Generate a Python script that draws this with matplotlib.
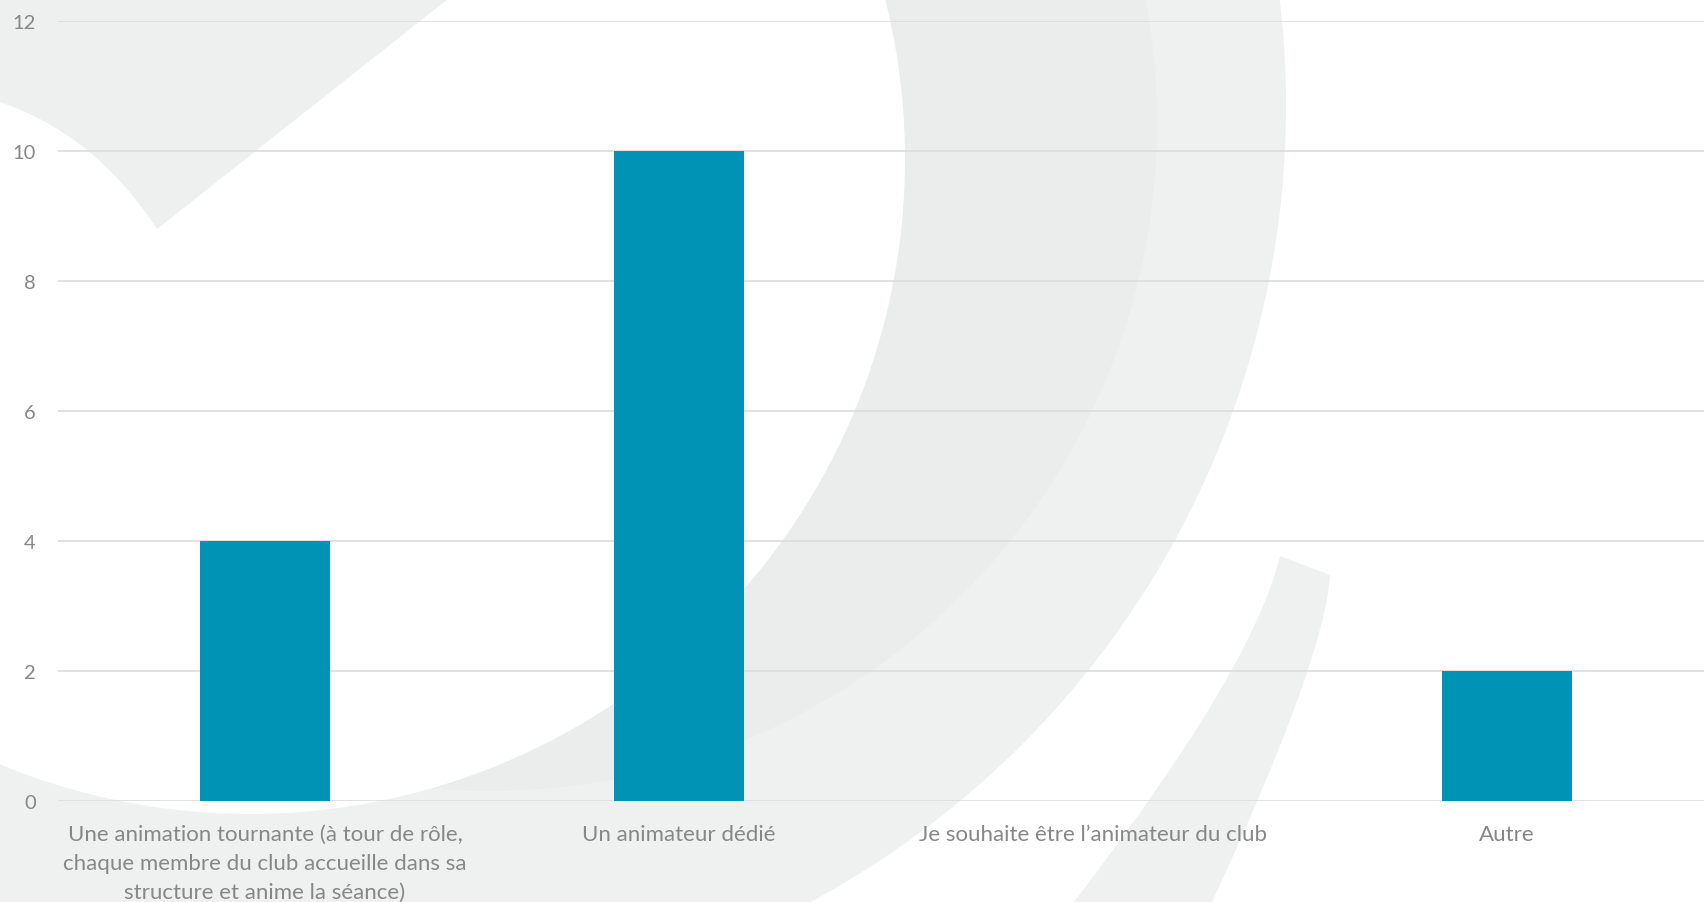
import matplotlib
matplotlib.use('Agg')
import matplotlib.pyplot as plt
from matplotlib.patches import Circle, PathPatch
from matplotlib.path import Path

# Données
categories = [
    "Une animation tournante (à tour de rôle,\nchaque membre du club accueille dans sa\nstructure et anime la séance)",
    "Un animateur dédié",
    "Je souhaite être l’animateur du club",
    "Autre",
]
valeurs = [4, 10, 0, 2]
yticks = [0, 2, 4, 6, 8, 10, 12]

BLEU = '#0093b6'
GRIS_TEXTE = '#878787'
GRIS_GRILLE = '#dcdcdc'

plt.rcParams['font.family'] = ['Lato', 'DejaVu Sans']

W, H = 1704, 903
fig = plt.figure(figsize=(W / 100, H / 100), dpi=100)
fig.patch.set_facecolor('white')

# Filigrane en arrière-plan (coordonnées en pixels, y vers le bas)
bg = fig.add_axes([0, 0, 1, 1], zorder=0)
bg.set_xlim(0, W)
bg.set_ylim(H, 0)
bg.axis('off')

bg.add_patch(Circle((382, 107), 904, facecolor='#eff0f0', edgecolor='none'))
bg.add_patch(Circle((489, 124), 668, facecolor='#ebecec', edgecolor='none'))
bg.add_patch(Circle((250, 160), 655, facecolor='white', edgecolor='none'))

# forme en haut à gauche
coin = Path(
    [(0, 0), (448, 0), (157, 230), (95, 135), (0, 103), (0, 0)],
    [Path.MOVETO, Path.LINETO, Path.LINETO, Path.CURVE3, Path.CURVE3, Path.CLOSEPOLY],
)
bg.add_patch(PathPatch(coin, facecolor='#eeefef', edgecolor='none'))

# petite virgule en bas à droite
virgule = Path(
    [(1280, 557), (1330, 576), (1325, 660), (1212, 903), (1074, 903), (1253, 670), (1280, 557), (1280, 557)],
    [Path.MOVETO, Path.LINETO, Path.CURVE3, Path.CURVE3, Path.LINETO, Path.CURVE3, Path.CURVE3, Path.CLOSEPOLY],
)
bg.add_patch(PathPatch(virgule, facecolor='#eff0f0', edgecolor='none'))

# Graphique principal
ax = fig.add_axes([58 / W, (H - 802) / H, 1656 / W, 780 / H], zorder=1)
ax.patch.set_alpha(0)

x = list(range(len(categories)))
ax.bar(x, valeurs, width=0.314, color=BLEU, zorder=3)

ax.set_xlim(-0.5, 3.5)
ax.set_ylim(0, 12)
ax.set_yticks(yticks)
ax.set_xticks(x)
ax.set_xticklabels(categories, linespacing=1.55)

ax.grid(axis='y', color=GRIS_GRILLE, linewidth=1.2, zorder=0)
ax.set_axisbelow(True)
for s in ax.spines.values():
    s.set_visible(False)

ax.tick_params(axis='y', length=0, pad=16, labelsize=14.5, labelcolor=GRIS_TEXTE)
ax.tick_params(axis='x', length=0, pad=16.5, labelsize=16, labelcolor=GRIS_TEXTE)

fig.savefig('out.png', dpi=100)
